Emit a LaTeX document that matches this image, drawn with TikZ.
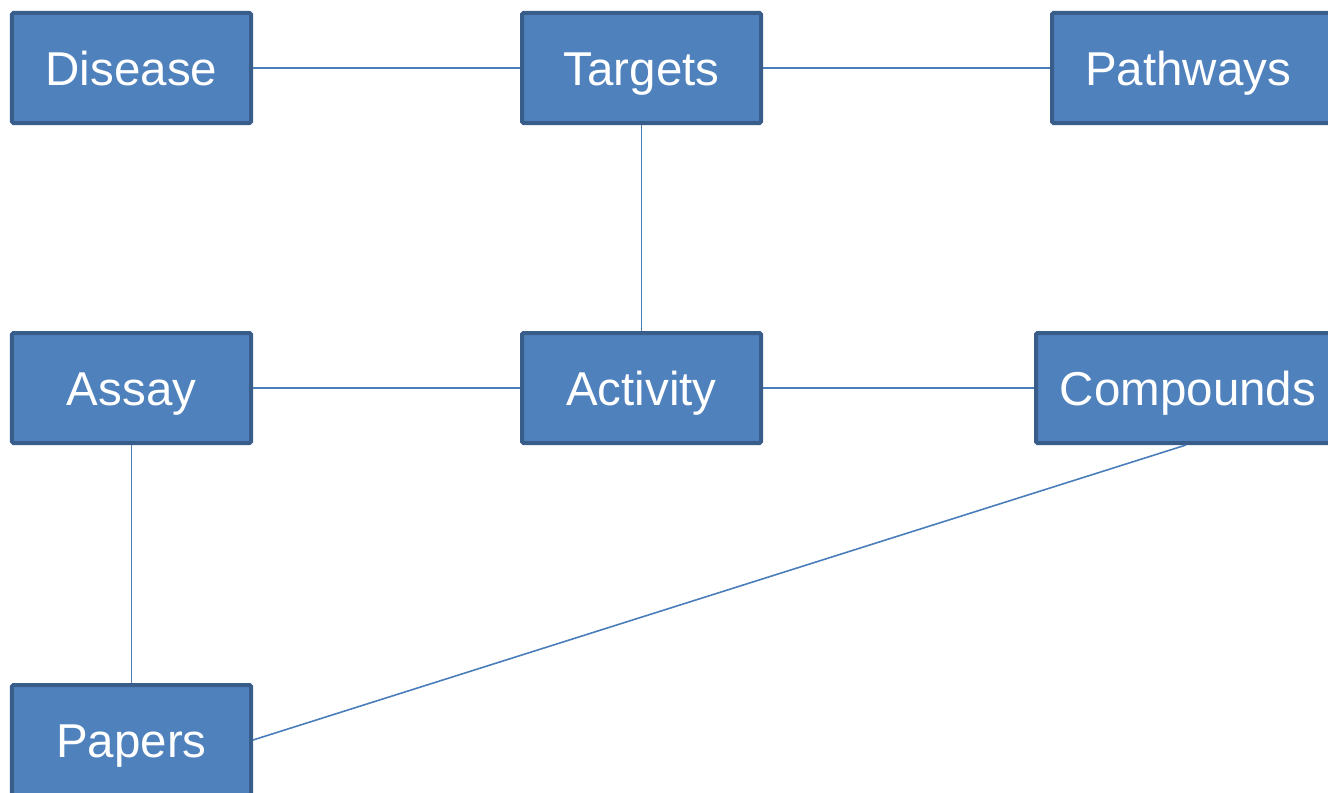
\documentclass[tikz,border=0pt]{standalone}
\usepackage{fontspec}
\setmainfont{Liberation Sans}
\definecolor{boxfill}{HTML}{4F81BD}
\definecolor{boxedge}{HTML}{385D8A}
\definecolor{linkc}{HTML}{4A7EBB}
\begin{document}
\begin{tikzpicture}[x=1bp,y=-1bp,
  box/.style={draw=boxedge, fill=boxfill, line width=4bp, rounded corners=1.5bp,
    minimum width=239bp, minimum height=110bp, inner sep=0pt,
    text height=34bp, text depth=0bp,
    text=white, font=\fontsize{47.5bp}{54bp}\selectfont},
  link/.style={draw=linkc, line width=1.6bp}]
\useasboundingbox (0,0) rectangle (1328,792);
\clip (0,0) rectangle (1328,792);
\node[box] (disease) at (131.5,68) {Disease};
\node[box] (targets) at (641.5,68) {Targets};
\node[box, minimum width=300bp] (pathways) at (1202,68) {\makebox[300bp]{\hspace*{-28bp}Pathways}};
\node[box] (assay) at (131.5,388) {Assay};
\node[box] (activity) at (641.5,388) {Activity};
\node[box, minimum width=300bp] (compounds) at (1186,388) {\makebox[300bp]{\hspace*{4bp}Compounds}};
\node[box] (papers) at (131.5,740) {Papers};
\draw[link] (disease.east) -- (targets.west);
\draw[link] (targets.east) -- (pathways.west);
\draw[link] (targets.south) -- (activity.north);
\draw[link] (assay.east) -- (activity.west);
\draw[link] (activity.east) -- (compounds.west);
\draw[link] (assay.south) -- (papers.north);
\draw[link] (compounds.south) -- (papers.east);
\end{tikzpicture}
\end{document}
